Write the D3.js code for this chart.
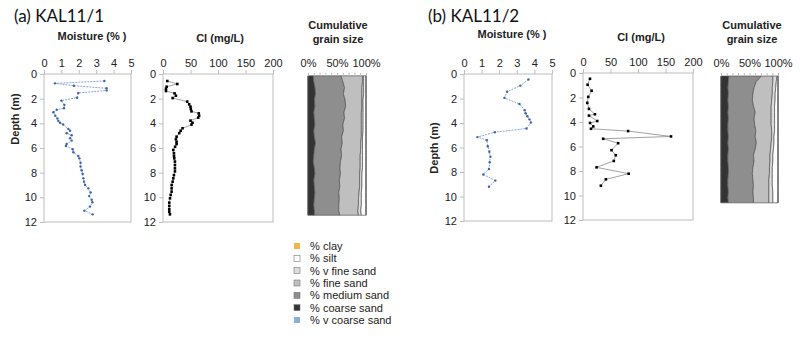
<!DOCTYPE html>
<html>
<head>
<meta charset="utf-8">
<script src="https://cdn.jsdelivr.net/npm/d3@7"></script>
<style>body{margin:0;background:#fff}</style>
</head>
<body>
<div id="chart"></div>
<script>
// ---- KAL11/1 ----
const moistDepthA = [0.57,0.76,0.95,1.16,1.33,1.54,1.92,2.16,2.5,2.78,2.9,3.1,3.38,3.6,3.8,3.95,4.1,4.46,4.6,4.8,4.97,5.2,5.4,5.68,5.84,6.1,6.35,6.65,6.84,7.2,7.5,7.8,8.1,8.46,8.73,9.0,9.27,9.6,9.9,10.2,10.4,10.75,11.08,11.38];
const moistA = [3.47,0.63,1.72,3.6,3.6,1.97,1.9,1.0,1.17,1.15,0.73,0.54,0.65,0.77,0.82,0.92,1.1,1.4,1.5,1.3,1.59,1.5,1.59,1.3,1.26,1.65,1.69,1.97,2.03,2.1,2.1,2.16,2.22,2.26,2.3,2.36,2.55,2.68,2.6,2.74,2.78,2.64,2.32,2.8];

const clDepthA = [0.57,0.81,1.03,1.2,1.38,1.57,1.76,1.95,2.24,2.46,2.65,2.84,3.03,3.19,3.38,3.54,3.78,3.95,4.1,4.4,4.6,4.8,5.08,5.3,5.5,5.68,5.9,6.16,6.43,6.65,6.84,7.1,7.38,7.65,7.9,8.2,8.46,8.73,9.0,9.27,9.54,9.8,10.08,10.43,10.7,10.97,11.16,11.38];
const clA = [7.8,26,6.6,5.4,5.4,21,23.5,17.5,44,47.6,50,50.6,51.8,65,65.7,64,50,53.6,51.8,35.5,32,29.5,24.7,23.5,24.7,24.7,22,18.7,19.9,20,20.5,21.7,21.7,21.7,21.7,19.9,18.7,17.5,15.7,15.7,15.7,13.9,12.7,11.4,11.4,11.4,11.4,12.6];

const grainDepthA = [0.15,0.6,1.1,1.6,2.1,2.6,3.1,3.6,4.1,4.6,5.1,5.6,6.1,6.6,7.1,7.6,8.1,8.6,9.1,9.6,10.1,10.6,11.1,11.45];
const coarseA = [9,10,12,13,11,12,10,11,12,10,11,13,11,10,9,11,12,10,11,12,11,10,11,11];
const mediumA = [48,50,51,48,53,53,52,52,48,51,47,46,46,48,47,44,44,44,44,41,43,43,42,44];
const fineA   = [37,34,30,32,29,28,30,29,32,31,34,32,34,32,34,35,33,35,34,35,33,34,33,32];
const vfineA  = [2,2,3,3,2,2,3,3,3,3,2,3,3,4,4,4,4,4,4,4,5,5,5,5];
const siltA   = [4,4,4,4,5,5,5,5,5,5,6,6,6,6,6,6,7,7,7,8,8,8,9,8];

// ---- KAL11/2 ----
const moistDepthB = [0.45,0.95,1.45,1.95,2.45,2.95,3.2,3.45,3.7,3.95,4.45,4.75,5.15,5.4,5.9,6.35,6.75,7.2,7.75,8.2,8.7,9.2];
const moistB = [3.66,3.2,2.45,2.3,3.15,3.45,3.5,3.6,3.72,3.8,3.55,1.75,0.76,1.3,1.35,1.44,1.5,1.46,1.42,1.1,1.78,1.42];

const clDepthB = [0.47,0.96,1.45,1.95,2.44,2.93,3.37,3.48,3.92,4.08,4.36,4.55,4.74,5.18,5.37,5.73,6.3,6.71,7.18,7.7,8.22,8.68,9.2];
const clB = [12.7,8.4,15.7,9.6,7.8,10.8,21.7,10.8,25.9,12.7,18.7,14.5,82,160,36.7,63.9,51.8,59.6,56,24.7,83,41.6,32.5];

const grainDepthB = [0.25,0.7,1.2,1.7,2.2,2.7,3.2,3.7,4.2,4.7,5.2,5.7,6.2,6.7,7.2,7.7,8.2,8.7,9.2,9.7,10.2,10.6];
const coarseB = [14,13,12,13,12,13,12,13,12,12,13,12,13,12,12,13,13,12,12,13,12,13];
const mediumB = [57,49,46,43,43,44,48,45,47,49,47,50,47,45,46,43,42,44,45,43,45,44];
const fineB   = [20,29,32,34,34,31,28,30,29,28,29,26,27,29,28,29,30,28,27,28,27,27];
const vfineB  = [7,6,6,5,6,6,6,6,6,5,4,5,5,5,5,5,5,6,6,7,7,7];
const siltB   = [2,3,4,5,5,6,6,6,6,6,7,7,8,9,9,10,10,10,10,9,9,9];

// legend / classes (stack order left -> right)
const grainClasses = ["v coarse sand","coarse sand","medium sand","fine sand","v fine sand","silt","clay"];
const legendOrder = ["clay","silt","v fine sand","fine sand","medium sand","coarse sand","v coarse sand"];
const grainColor = {
  "clay": "#f6b44c", "silt": "#ffffff", "v fine sand": "#dcdcdc", "fine sand": "#bfbfbf",
  "medium sand": "#8e8e8e", "coarse sand": "#333333", "v coarse sand": "#8eaedb"
};
const depthTicks = [0,2,4,6,8,10,12];

const width = 811, height = 339;
const FONT = "'Liberation Sans', Arial, sans-serif";

const svg = d3.select("#chart").append("svg")
  .attr("width", width).attr("height", height)
  .style("font-family", FONT);

function frame(g, x, y) {
  g.append("rect")
    .attr("x", x.range()[0]).attr("y", y.range()[0])
    .attr("width", x.range()[1] - x.range()[0])
    .attr("height", y.range()[1] - y.range()[0])
    .attr("fill", "none").attr("stroke", "#bdbdbd").attr("stroke-width", 1);
}

function styleAxis(g) {
  g.select(".domain").remove();
  g.selectAll("line").attr("stroke", "#bdbdbd");
  g.selectAll("text").attr("fill", "#222").style("font-size", "11px").style("font-family", FONT);
}

// depth profile (moisture or Cl)
function profile(p) {
  const g = svg.append("g");
  const x = d3.scaleLinear().domain(p.xDomain).range(p.xRange);
  const y = d3.scaleLinear().domain([0, 12]).range(p.yRange);
  frame(g, x, y);
  g.append("g").attr("transform", `translate(0,${p.yRange[0]})`)
    .call(d3.axisTop(x).tickValues(p.xTicks).tickSize(4).tickPadding(3).tickFormat(d3.format("d")))
    .call(styleAxis);
  g.append("g").attr("transform", `translate(${p.xRange[0]},0)`)
    .call(d3.axisLeft(y).tickValues(depthTicks).tickSize(4).tickPadding(3))
    .call(styleAxis);

  const pts = p.depth.map((d, i) => ({ depth: d, v: p.values[i] }));
  const line = d3.line().x(d => x(d.v)).y(d => y(d.depth));
  g.append("path").datum(pts)
    .attr("d", line).attr("fill", "none")
    .attr("stroke", p.lineColor).attr("stroke-width", p.lineWidth)
    .attr("stroke-dasharray", p.dash || null);
  if (p.square) {
    g.selectAll(".pt").data(pts).join("rect")
      .attr("x", d => x(d.v) - 1.3).attr("y", d => y(d.depth) - 1.3)
      .attr("width", 2.6).attr("height", 2.6).attr("fill", p.markColor);
  } else {
    g.selectAll(".pt").data(pts).join("circle")
      .attr("cx", d => x(d.v)).attr("cy", d => y(d.depth))
      .attr("r", 1.2).attr("fill", p.markColor);
  }
  g.append("text")
    .attr("x", p.titleX).attr("y", p.titleY)
    .attr("text-anchor", "middle")
    .style("font-size", "11px").style("font-weight", "bold").attr("fill", "#222")
    .text(p.title);
  return y;
}

function grain(p) {
  const g = svg.append("g");
  const x = d3.scaleLinear().domain([0, 100]).range(p.xRange);
  const y = d3.scaleLinear().domain([0, 12]).range(p.yRange);
  const rows = p.depth.map((d, i) => ({
    depth: d,
    "v coarse sand": 0,
    "coarse sand": p.coarse[i],
    "medium sand": p.medium[i],
    "fine sand": p.fine[i],
    "v fine sand": p.vfine[i],
    "silt": p.silt[i],
    "clay": 0
  }));
  const series = d3.stack().keys(grainClasses)(rows);
  const area = d3.area()
    .y(d => y(d.data.depth))
    .x0(d => x(d[0])).x1(d => x(d[1]));
  g.selectAll(".layer").data(series).join("path")
    .attr("d", area)
    .attr("fill", s => grainColor[s.key])
    .attr("stroke", "#555").attr("stroke-width", 0.7);

  const top = y(p.depth[0]);
  g.append("g").attr("transform", `translate(0,${top})`)
    .call(d3.axisTop(x).tickValues(d3.range(0, 101, 10)).tickSize(3).tickPadding(6)
      .tickFormat(d => d % 50 === 0 ? d + "%" : ""))
    .call(styleAxis)
    .call(a => a.selectAll("text").attr("dy", "0"));

  g.append("text").attr("x", p.titleX).attr("y", 29).attr("text-anchor", "middle")
    .style("font-size", "11px").style("font-weight", "bold").attr("fill", "#222")
    .text("Cumulative");
  g.append("text").attr("x", p.titleX).attr("y", 43).attr("text-anchor", "middle")
    .style("font-size", "11px").style("font-weight", "bold").attr("fill", "#222")
    .text("grain size");
}

// ---- panel (a) ----
profile({
  depth: moistDepthA, values: moistA, xDomain: [0, 5], xTicks: [0,1,2,3,4,5],
  xRange: [44, 131], yRange: [74, 222],
  lineColor: "#7b9bd0", lineWidth: 0.9, dash: "2,1", markColor: "#3d64a8",
  title: "Moisture (% )", titleX: 92, titleY: 40
});
profile({
  depth: clDepthA, values: clA, xDomain: [0, 200], xTicks: [0,50,100,150,200],
  xRange: [163, 273], yRange: [74, 222],
  lineColor: "#8a8a8a", lineWidth: 0.8, markColor: "#000", square: true,
  title: "Cl (mg/L)", titleX: 220, titleY: 42
});
grain({
  depth: grainDepthA, coarse: coarseA, medium: mediumA, fine: fineA, vfine: vfineA, silt: siltA,
  xRange: [308, 366], yRange: [74, 222], titleX: 338
});

// ---- panel (b) ----
profile({
  depth: moistDepthB, values: moistB, xDomain: [0, 5], xTicks: [0,1,2,3,4,5],
  xRange: [464, 552], yRange: [74, 221],
  lineColor: "#7b9bd0", lineWidth: 0.9, dash: "2,1", markColor: "#3d64a8",
  title: "Moisture (% )", titleX: 512, titleY: 38
});
profile({
  depth: clDepthB, values: clB, xDomain: [0, 200], xTicks: [0,50,100,150,200],
  xRange: [583, 693], yRange: [73, 220],
  lineColor: "#8a8a8a", lineWidth: 0.8, markColor: "#000", square: true,
  title: "Cl (mg/L)", titleX: 641, titleY: 41
});
grain({
  depth: grainDepthB, coarse: coarseB, medium: mediumB, fine: fineB, vfine: vfineB, silt: siltB,
  xRange: [721, 778], yRange: [73, 220], titleX: 752
});

// panel titles and depth labels
svg.append("text").attr("x", 14).attr("y", 22)
  .style("font-family", "Lato, 'Open Sans', sans-serif").style("font-size", "17px").attr("fill", "#111")
  .text("(a) KAL11/1");
svg.append("text").attr("x", 428).attr("y", 22)
  .style("font-family", "Lato, 'Open Sans', sans-serif").style("font-size", "17px").attr("fill", "#111")
  .text("(b) KAL11/2");

[[19, 119], [438, 148]].forEach(([cx, cy]) => {
  svg.append("text")
    .attr("transform", `translate(${cx},${cy}) rotate(-90)`)
    .attr("text-anchor", "middle")
    .style("font-size", "11px").style("font-weight", "bold").attr("fill", "#222")
    .text("Depth (m)");
});

// legend
const legend = svg.append("g");
const ly = d3.scalePoint().domain(legendOrder).range([246, 320]);
legend.selectAll("rect").data(legendOrder).join("rect")
  .attr("x", 294).attr("y", d => ly(d) - 3)
  .attr("width", 6).attr("height", 6)
  .attr("fill", d => grainColor[d])
  .attr("stroke", d => d === "clay" || d === "v coarse sand" ? "none" : "#777")
  .attr("stroke-width", 0.6);
legend.selectAll(".pct").data(legendOrder).join("text")
  .attr("x", 310).attr("y", d => ly(d)).attr("dy", "0.35em")
  .style("font-size", "11px").attr("fill", "#222").text("%");
legend.selectAll(".nm").data(legendOrder).join("text")
  .attr("x", 323).attr("y", d => ly(d)).attr("dy", "0.35em")
  .style("font-size", "11px").attr("fill", "#222").text(d => d);
</script>
</body>
</html>
